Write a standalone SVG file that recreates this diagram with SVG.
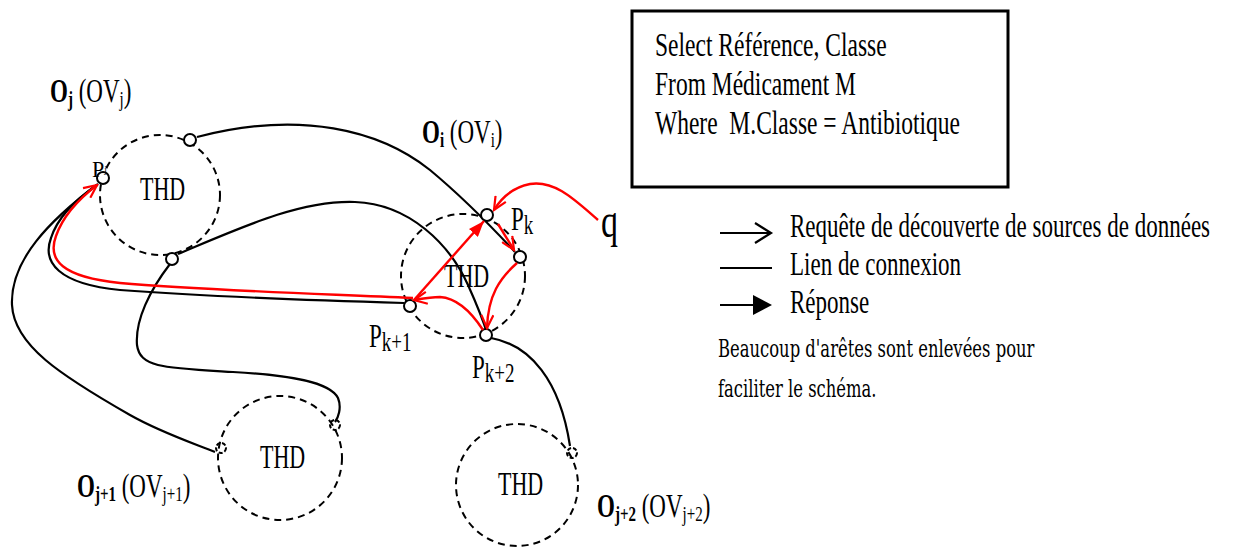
<svg xmlns="http://www.w3.org/2000/svg" width="1242" height="554" viewBox="0 0 1242 554">
<defs>
<style>
.thd{fill:none;stroke:#000;stroke-width:2;stroke-dasharray:7 5}
.port{fill:#fff;stroke:#000;stroke-width:2}
.dport{fill:none;stroke:#000;stroke-width:2;stroke-dasharray:4 2}
.link{fill:none;stroke:#000;stroke-width:2.2}
.req{fill:none;stroke:#f00;stroke-width:2.4;marker-end:url(#openRed)}
.resp{fill:none;stroke:#f00;stroke-width:2.4;marker-end:url(#fillRed)}
.serif{font-family:"Liberation Serif","Times New Roman",serif;fill:#000}
.note{font-family:"DejaVu Serif",serif;fill:#000}
</style>
<marker id="openRed" markerUnits="userSpaceOnUse" markerWidth="16" markerHeight="14" refX="14" refY="7" orient="auto" viewBox="0 0 16 14"><path d="M1,1 L14,7 L1,13" fill="none" stroke="#f00" stroke-width="2.2"/></marker>
<marker id="fillRed" markerUnits="userSpaceOnUse" markerWidth="16" markerHeight="12" refX="16" refY="6" orient="auto" viewBox="0 0 16 12"><path d="M0,0 L16,6 L0,12 z" fill="#f00"/></marker>
</defs>
<rect width="1242" height="554" fill="#fff"/>

<g id="node-Oj">
<circle class="thd" cx="160" cy="195" r="60"/>
<text class="serif" font-size="22" transform="translate(140,200) scale(1,1.5)">THD</text>
<text class="serif" font-size="23" transform="translate(50,102) scale(1,1.42)"><tspan font-weight="bold">O</tspan><tspan font-weight="bold" font-size="15" dy="3">j</tspan><tspan dy="-3"> (OV</tspan><tspan font-size="15" dy="3">j</tspan><tspan dy="-3">)</tspan></text>
</g>
<g id="node-Oi">
<circle class="thd" cx="463" cy="276" r="62"/>
<text class="serif" font-size="22" transform="translate(444,287) scale(1,1.5)">THD</text>
<text class="serif" font-size="23" transform="translate(422,143) scale(1,1.42)"><tspan font-weight="bold">O</tspan><tspan font-weight="bold" font-size="15" dy="3">i</tspan><tspan dy="-3"> (OV</tspan><tspan font-size="15" dy="3">i</tspan><tspan dy="-3">)</tspan></text>
</g>
<g id="node-Oj1">
<circle class="thd" cx="280" cy="458" r="62"/>
<text class="serif" font-size="22" transform="translate(260,468) scale(1,1.5)">THD</text>
<text class="serif" font-size="23" transform="translate(77,497) scale(1,1.42)"><tspan font-weight="bold">O</tspan><tspan font-weight="bold" font-size="15" dy="3">j+1</tspan><tspan dy="-3"> (OV</tspan><tspan font-size="15" dy="3">j+1</tspan><tspan dy="-3">)</tspan></text>
</g>
<g id="node-Oj2">
<circle class="thd" cx="517" cy="485" r="61"/>
<text class="serif" font-size="22" transform="translate(498,495) scale(1,1.5)">THD</text>
<text class="serif" font-size="23" transform="translate(597,517) scale(1,1.42)"><tspan font-weight="bold">O</tspan><tspan font-weight="bold" font-size="15" dy="3">j+2</tspan><tspan dy="-3"> (OV</tspan><tspan font-size="15" dy="3">j+2</tspan><tspan dy="-3">)</tspan></text>
</g>

<g id="connectors">
<path class="link" d="M197,137 C300,110 380,130 430,170 C460,195 490,225 515,252"/>
<path class="link" d="M178,254 C240,228 300,200 355,202 C410,204 450,245 468,285 C477,305 483,320 487,333"/>
<path class="link" d="M170,264 C150,290 135,320 137,345 C140,368 165,368 233,372 C290,375 330,382 338,398 C342,408 338,418 335,422"/>
<path class="link" d="M404,303 C300,300 200,296 120,290 C58,284 42,262 51,238 C58,216 78,198 97,185"/>
<path class="link" d="M98,184 C50,220 10,260 12,305 C14,345 60,375 130,415 C160,432 190,442 215,452"/>
<path class="link" d="M491,338 C530,345 560,380 570,446"/>
</g>

<g id="ports">
<circle class="port" cx="103" cy="178" r="6"/>
<circle class="port" cx="190" cy="140" r="6"/>
<circle class="port" cx="172" cy="259" r="6"/>
<circle class="port" cx="487" cy="215" r="6"/>
<circle class="port" cx="520" cy="257" r="6"/>
<circle class="port" cx="410" cy="306" r="6"/>
<circle class="port" cx="486" cy="335" r="6"/>
<circle class="dport" cx="221" cy="448" r="5"/>
<circle class="dport" cx="335" cy="425" r="5"/>
<circle class="dport" cx="572" cy="453" r="5"/>
</g>

<g id="red-connectors">
<path class="req" d="M413,298 C300,293 200,290 120,283 C62,277 47,260 56,236 C63,216 80,198 97,185"/>
<path class="req" d="M598,220 C575,200 555,180 530,184 C510,188 500,200 494,210"/>
<path class="req" d="M498,224 L514,250"/>
<path class="req" d="M517,263 C500,278 488,295 487,328"/>
<path class="req" d="M483,330 C470,310 455,298 440,297 C430,297 420,299 414,300"/>
<path class="resp" d="M414,300 L484,221"/>
</g>

<g id="labels">
<text class="serif" font-size="22" transform="translate(92,177) scale(1,1.05)">P<tspan font-size="9" dy="-4">j</tspan></text>
<text class="serif" font-size="23" transform="translate(511,230) scale(1,1.42)">P<tspan font-size="19" dy="3">k</tspan></text>
<text class="serif" font-size="23" transform="translate(369,347) scale(1,1.42)">P<tspan font-size="19" dy="3">k+1</tspan></text>
<text class="serif" font-size="23" transform="translate(472,378) scale(1,1.42)">P<tspan font-size="19" dy="3">k+2</tspan></text>
<text class="serif" font-size="34" transform="translate(601,237) scale(1,1.42)">q</text>
</g>

<g id="query-box">
<rect x="632" y="11" width="376" height="176" fill="#fff" stroke="#000" stroke-width="3"/>
<text class="serif" font-size="23.5" transform="translate(655,56) scale(1,1.42)">Select Référence, Classe</text>
<text class="serif" font-size="23.5" transform="translate(655,95) scale(1,1.42)">From Médicament M</text>
<text class="serif" font-size="23.5" transform="translate(655,134) scale(1,1.42)" xml:space="preserve">Where  M.Classe = Antibiotique</text>
</g>

<g id="legend">
<path d="M720,233 L770,233 M755,223 L771,233 L755,243" fill="none" stroke="#000" stroke-width="2.2"/>
<path d="M720,268 L772,268" fill="none" stroke="#000" stroke-width="2.2"/>
<path d="M720,305 L754,305" fill="none" stroke="#000" stroke-width="2.2"/>
<path d="M753,295 L772,305 L753,315 z" fill="#000"/>
<text class="serif" font-size="23" transform="translate(790,237) scale(1,1.42)">Requête de découverte de sources de données</text>
<text class="serif" font-size="23" transform="translate(790,275) scale(1,1.42)">Lien de connexion</text>
<text class="serif" font-size="23" transform="translate(790,313) scale(1,1.42)">Réponse</text>
</g>

<g id="note">
<text class="note" font-size="16.4" transform="translate(718,357) scale(1,1.42)">Beaucoup d'arêtes sont enlevées pour</text>
<text class="note" font-size="16.4" transform="translate(718,397) scale(1,1.42)">faciliter le schéma.</text>
</g>
</svg>
